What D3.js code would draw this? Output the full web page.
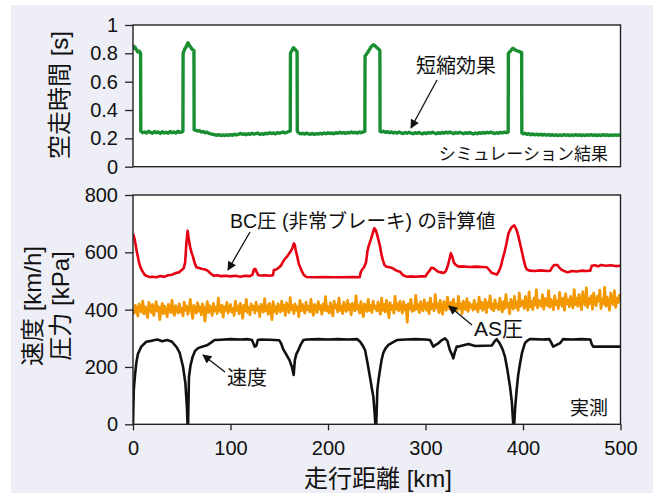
<!DOCTYPE html>
<html>
<head>
<meta charset="utf-8">
<script src="https://cdn.jsdelivr.net/npm/d3@7"></script>
<style>
  body { margin: 0; background: #fff; }
  svg { display: block; }
  text { font-family: "Liberation Sans", "Noto Sans CJK JP", sans-serif; fill: #111; }
</style>
</head>
<body>
<svg id="idChart" width="653" height="493"></svg>
<script>
/// 空走時間 (シミュレーション結果) [km, s]
const idleTime = [[0,0.86],[1,0.835],[2,0.845],[3.5,0.825],[5,0.81],[6.5,0.815],[7.8,0.8],[8,0.25],[10,0.24],[12,0.245],[14,0.238],[16,0.25],[18,0.242],[20,0.236],[22,0.248],[24,0.24],[26,0.245],[28,0.235],[30,0.247],[32,0.238],[34,0.243],[36,0.236],[38,0.248],[40,0.24],[42,0.245],[44,0.237],[46,0.25],[48,0.242],[50,0.245],[51.2,0.25],[51.4,0.8],[53,0.83],[54.5,0.845],[56.4,0.875],[57.5,0.86],[59,0.845],[61,0.825],[62.5,0.82],[62.7,0.26],[64,0.258],[66,0.252],[68,0.255],[70,0.245],[72,0.248],[74,0.24],[76,0.243],[78,0.235],[80,0.232],[82,0.228],[84,0.225],[86,0.222],[88,0.226],[90,0.22],[92,0.224],[94,0.22],[96,0.225],[98,0.221],[100,0.226],[102,0.222],[104,0.23],[106,0.224],[108,0.228],[110,0.235],[112,0.229],[114,0.232],[116,0.226],[118,0.233],[120,0.228],[122,0.236],[124,0.23],[126,0.233],[128,0.238],[130,0.227],[132,0.233],[134,0.229],[136,0.236],[138,0.232],[140,0.24],[142,0.234],[144,0.238],[146,0.232],[148,0.241],[150,0.236],[152,0.24],[154,0.245],[156,0.238],[158,0.243],[160,0.25],[161.3,0.252],[161.5,0.8],[163,0.82],[164.5,0.84],[166,0.83],[168.3,0.81],[168.5,0.25],[170,0.238],[172,0.232],[174,0.236],[176,0.23],[178,0.237],[180,0.232],[182,0.229],[184,0.235],[186,0.228],[188,0.233],[190,0.23],[192,0.236],[194,0.231],[196,0.238],[198,0.233],[200,0.24],[202,0.234],[204,0.238],[206,0.232],[208,0.24],[210,0.236],[212,0.243],[214,0.237],[216,0.241],[218,0.235],[220,0.242],[222,0.238],[224,0.245],[226,0.239],[228,0.243],[230,0.237],[232,0.244],[234,0.24],[236,0.246],[237.8,0.25],[238,0.78],[240,0.8],[242,0.82],[244,0.845],[246.5,0.86],[248,0.855],[250,0.84],[252,0.83],[253.2,0.82],[253.4,0.25],[255,0.245],[257,0.25],[259,0.242],[261,0.247],[263,0.24],[265,0.246],[267,0.238],[269,0.243],[271,0.237],[273,0.245],[275,0.239],[277,0.234],[279,0.241],[281,0.236],[283,0.243],[285,0.238],[287,0.233],[289,0.24],[291,0.235],[293,0.242],[295,0.236],[297,0.232],[299,0.239],[301,0.234],[303,0.241],[305,0.236],[307,0.244],[309,0.238],[311,0.233],[313,0.24],[315,0.235],[317,0.242],[319,0.237],[321,0.244],[323,0.238],[325,0.245],[327,0.239],[329,0.234],[331,0.241],[333,0.236],[335,0.243],[337,0.238],[339,0.233],[341,0.24],[343,0.235],[345,0.242],[347,0.236],[349,0.231],[351,0.238],[353,0.233],[355,0.24],[357,0.235],[359,0.242],[361,0.236],[363,0.243],[365,0.238],[367,0.244],[369,0.239],[371,0.234],[373,0.24],[375,0.236],[377,0.243],[379,0.238],[381,0.244],[383,0.24],[384.8,0.245],[385,0.8],[387,0.815],[389.4,0.835],[391,0.83],[393,0.82],[395,0.815],[397,0.81],[398.6,0.805],[398.8,0.24],[400,0.232],[402,0.236],[404,0.228],[406,0.233],[408,0.226],[410,0.231],[412,0.225],[414,0.23],[416,0.224],[418,0.229],[420,0.223],[422,0.228],[424,0.222],[426,0.227],[428,0.221],[430,0.226],[432,0.22],[434,0.225],[436,0.219],[438,0.224],[440,0.22],[442,0.226],[444,0.221],[446,0.225],[448,0.219],[450,0.224],[452,0.22],[454,0.226],[456,0.221],[458,0.225],[460,0.219],[462,0.224],[464,0.22],[466,0.225],[468,0.221],[470,0.226],[472,0.22],[474,0.225],[476,0.219],[478,0.224],[480,0.22],[482,0.226],[484,0.221],[486,0.225],[488,0.219],[490,0.224],[492,0.22],[494,0.225],[496,0.221],[498,0.224],[500,0.222]];

/// BC圧 (非常ブレーキ) の計算値 [km, kPa]
const bcPressure = [[0,665],[1,655],[2,640],[3,620],[4,600],[5,585],[6,568],[7,555],[8,545],[10,532],[12,522],[14,517],[17,514],[20,515],[24,513],[28,517],[32,515],[36,520],[40,522],[44,528],[47,530],[50,538],[52,545],[53.5,565],[54.5,620],[55.5,660],[56,675],[57,650],[58,630],[59,612],[60,600],[61.5,585],[63,565],[65,548],[68,545],[71,542],[74,540],[77,535],[80,525],[83,518],[86,520],[90,517],[95,518],[100,516],[105,518],[110,515],[115,518],[120,517],[122.5,522],[124,540],[125.5,542],[127,530],[128.5,520],[132,519],[136,520],[140,518],[143.5,520],[144.5,538],[147,540],[150,548],[152,555],[154,568],[156,578],[158,585],[160,595],[162,605],[163.5,615],[165,631],[166,625],[167,605],[168.5,585],[170,560],[171.5,548],[173,535],[175,522],[178,514],[185,513],[195,514],[205,513],[215,513],[225,514],[232.5,513],[233.5,530],[235,540],[237,548],[239,565],[240.5,605],[242,625],[244,645],[246,668],[247.5,684],[249,678],[250.5,660],[252,640],[253.5,618],[255,590],[256.5,570],[258,556],[260,550],[263,548],[266,545],[268.5,540],[271,535],[274,532],[277,520],[281,515],[285,516],[290,515],[295,516],[300,516],[302,527],[304,535],[306,546],[308,545],[310,540],[313,532],[316,530],[319,528],[321,535],[323,555],[324.5,575],[326,597],[327.5,585],[329,565],[331,556],[334,550],[338,551],[345,549],[352,550],[358,549],[363,548],[365,540],[368,528],[371,525],[373,522],[375,532],[377,548],[379,575],[381,600],[383,630],[385,665],[387,680],[389,690],[391,694],[393,682],[395,660],[397,630],[399,600],[401,570],[402.5,550],[404,540],[407,536],[412,535],[418,537],[425,535],[428,536],[430,548],[432,556],[435,556],[437,548],[439,540],[442,535],[446,530],[450,535],[455,533],[460,536],[465,535],[469,536],[470.5,553],[474,555],[477,551],[480,556],[485,553],[490,555],[495,552],[500,553]];

/// AS圧 (実測), 1.25 km step [kPa]
const asStep = 1.25;
const asPressure = [402,388,415,396,378,420,405,392,430,385,410,398,372,425,408,390,418,380,402,428,
  395,410,365,400,422,386,412,398,375,418,404,390,432,396,380,414,400,388,420,392,
  405,378,426,398,412,384,402,436,394,370,415,400,388,424,396,410,382,420,405,360,
  398,428,390,414,402,380,422,396,408,386,440,400,392,416,374,410,398,425,388,405,
  418,392,404,380,430,398,412,386,422,402,370,415,396,436,390,408,382,420,400,412,
  388,426,398,410,376,418,404,392,438,396,414,384,422,400,365,428,394,410,386,420,
  402,392,430,398,416,380,424,406,390,442,400,414,386,420,398,410,376,432,396,418,
  404,388,426,400,412,392,436,398,380,418,406,390,428,402,414,384,420,398,445,396,
  410,388,424,402,378,430,406,416,392,440,398,412,386,426,404,394,432,400,418,382,
  422,406,396,448,402,414,388,428,400,376,420,408,394,436,398,416,390,430,405,412,
  396,426,404,384,440,398,418,392,432,406,372,424,400,414,388,446,402,420,396,430,
  408,388,428,400,416,356,420,404,436,394,412,398,450,402,418,390,428,406,396,434,
  410,398,424,386,440,404,418,396,452,406,420,390,432,402,384,428,410,398,444,412,
  402,426,392,436,408,418,396,446,404,420,386,430,410,400,438,394,424,408,416,398,
  432,404,418,392,444,406,426,398,412,436,390,424,410,448,402,420,396,434,408,418,
  400,440,412,392,428,404,452,410,422,386,436,414,402,446,408,426,398,458,412,420,
  430,404,446,418,398,462,410,428,400,440,416,470,406,432,420,412,452,402,438,424,
  414,466,408,436,422,400,448,418,430,404,460,426,412,440,398,456,420,434,410,446,
  428,406,470,418,440,412,452,424,400,462,430,416,476,408,438,422,448,402,458,426,
  414,446,430,468,404,436,420,478,412,444,426,398,458,432,418,466,408,440,424,450,
  432];

/// 速度 (実測) [km, km/h]
const speed = [[0,0],[0.8,120],[2,170],[3.4,214],[5,245],[8.5,271],[13.6,288],[20,292],[25,296],[30,290],[35,294],[40,288],[42.7,277],[45,268],[47.9,249],[51.3,201],[53.7,144],[55.3,60],[55.9,0],[56.5,0],[57.4,166],[59,205],[61.2,236],[63.5,255],[66.4,265],[70,270],[76.6,277],[80,285],[83.7,294],[90,295],[100,297],[110,296],[118,297],[122,294],[124.8,271],[126.5,274],[128,294],[131,296],[140,295],[150,293],[152,282],[154,262],[157,245],[160.5,224],[163,200],[164.8,172],[166,224],[167.5,245],[169.6,259],[172,278],[174.8,294],[178,296],[190,297],[200,296],[210,297],[220,296],[230,297],[233,288],[235.5,275],[238,259],[240.5,215],[243,166],[245,125],[246.5,96],[247.8,40],[248.6,0],[249.5,0],[250.6,120],[252,160],[253.3,189],[255,225],[256.7,249],[259,265],[262,277],[266,285],[270.6,294],[280,296],[290,297],[300,296],[304.6,294],[306,285],[308,271],[310,276],[313,282],[316,292],[320,300],[322.5,290],[325,259],[327,245],[328.5,230],[330,250],[332,271],[335,272],[340,277],[344,280],[351,273],[360,274],[368,275],[371,290],[373,297],[376,283],[379,262],[381.5,236],[384,190],[386.7,131],[388.5,80],[390,0],[391,0],[392,60],[393.5,120],[395,170],[397,213],[399,250],[402,283],[404.5,292],[407,297],[410,297],[420,296],[427,297],[429,285],[431,271],[434,276],[438,283],[441,297],[450,296],[460,297],[469,296],[470.5,280],[472,271],[480,271],[490,271],[500,271]];

const xTicks = [0, 100, 200, 300, 400, 500];
const topTicks = [0, 0.2, 0.4, 0.6, 0.8, 1];
const bottomTicks = [0, 200, 400, 600, 800];

const svg = d3.select('#idChart');
const frame = { left: 133, right: 620.5 };
const topBox = { top: 25, bottom: 166.7 };
const botBox = { top: 195, bottom: 424.3 };

svg.append('rect').attr('x', 11).attr('y', 5).attr('width', 642).attr('height', 488).attr('fill', '#eeeef7');

const x = d3.scaleLinear().domain([0, 500]).range([frame.left, frame.right]);
const yTop = d3.scaleLinear().domain([0, 1]).range([topBox.bottom, topBox.top]);
const yBot = d3.scaleLinear().domain([0, 800]).range([botBox.bottom, botBox.top]);

/// plot backgrounds
[topBox, botBox].forEach(b => {
  svg.append('rect').attr('x', frame.left).attr('y', b.top)
    .attr('width', frame.right - frame.left).attr('height', b.bottom - b.top).attr('fill', '#fff');
});

/// arrow head
svg.append('defs').append('marker')
  .attr('id', 'arrow').attr('viewBox', '0 0 10 10').attr('refX', 9).attr('refY', 5)
  .attr('markerWidth', 10).attr('markerHeight', 9).attr('markerUnits', 'userSpaceOnUse')
  .attr('orient', 'auto')
  .append('path').attr('d', 'M0,0 L10,5 L0,10 Z').attr('fill', '#111');

/// lines
const clip = (id, b) => svg.append('clipPath').attr('id', id).append('rect')
  .attr('x', frame.left).attr('y', b.top - 2).attr('width', frame.right - frame.left).attr('height', b.bottom - b.top + 2);
clip('clipTop', topBox);
clip('clipBot', botBox);

const lineTop = d3.line().x(d => x(d[0])).y(d => yTop(d[1]));
const lineBot = d3.line().x(d => x(d[0])).y(d => yBot(d[1]));

svg.append('path').datum(idleTime).attr('d', lineTop).attr('clip-path', 'url(#clipTop)')
  .attr('fill', 'none').attr('stroke', '#1a8f32').attr('stroke-width', 3.4).attr('stroke-linejoin', 'round');

const gBot = svg.append('g').attr('clip-path', 'url(#clipBot)');
gBot.append('path').datum(asPressure.map((v, i) => [i * asStep, v])).attr('d', lineBot)
  .attr('fill', 'none').attr('stroke', '#f39800').attr('stroke-width', 2.8).attr('stroke-linejoin', 'round');
gBot.append('path').datum(bcPressure).attr('d', lineBot)
  .attr('fill', 'none').attr('stroke', '#e60012').attr('stroke-width', 2.6).attr('stroke-linejoin', 'round');
gBot.append('path').datum(speed).attr('d', lineBot)
  .attr('fill', 'none').attr('stroke', '#111').attr('stroke-width', 2.6).attr('stroke-linejoin', 'round');

/// axes
const fmt = d => String(d);
const axTop = svg.append('g').attr('transform', `translate(${frame.left},0)`)
  .call(d3.axisLeft(yTop).tickValues(topTicks).tickFormat(fmt).tickSize(8).tickPadding(7).tickSizeOuter(0));
const axBot = svg.append('g').attr('transform', `translate(${frame.left},0)`)
  .call(d3.axisLeft(yBot).tickValues(bottomTicks).tickFormat(fmt).tickSize(8).tickPadding(7).tickSizeOuter(0));
const axX = svg.append('g').attr('transform', `translate(0,${botBox.bottom})`)
  .call(d3.axisBottom(x).tickValues(xTicks).tickFormat(fmt).tickSize(6).tickPadding(11).tickSizeOuter(0));
[axTop, axBot, axX].forEach(a => {
  a.select('.domain').remove();
  a.selectAll('.tick line').attr('stroke', '#222').attr('stroke-width', 1.3);
  a.selectAll('.tick text').attr('font-size', 20).attr('font-family', null).attr('fill', '#111');
});

/// frames
[topBox, botBox].forEach(b => {
  svg.append('rect').attr('x', frame.left).attr('y', b.top)
    .attr('width', frame.right - frame.left).attr('height', b.bottom - b.top)
    .attr('fill', 'none').attr('stroke', '#222').attr('stroke-width', 1.4);
});

/// axis titles
const title = (tx, ty, txt) => svg.append('text').attr('transform', `translate(${tx},${ty}) rotate(-90)`)
  .attr('text-anchor', 'middle').attr('font-size', 24).text(txt);
title(68, 95, '空走時間 [s]');
title(41, 306, '速度 [km/h]');
title(69, 306, '圧力 [kPa]');
svg.append('text').attr('x', 378).attr('y', 487).attr('text-anchor', 'middle').attr('font-size', 24).text('走行距離 [km]');

/// annotations
const note = (tx, ty, anchor, size, txt) => svg.append('text').attr('x', tx).attr('y', ty)
  .attr('text-anchor', anchor).attr('font-size', size).text(txt);
const arrow = (x1, y1, x2, y2) => svg.append('line').attr('x1', x1).attr('y1', y1).attr('x2', x2).attr('y2', y2)
  .attr('stroke', '#111').attr('stroke-width', 1.3).attr('marker-end', 'url(#arrow)');

note(456, 73, 'middle', 20, '短縮効果');
arrow(437, 80, 411, 128);
note(608, 160, 'end', 17, 'シミュレーション結果');
note(230, 228, 'start', 19.5, 'BC圧 (非常ブレーキ) の計算値');
arrow(250, 232, 228, 270);
note(474, 336, 'start', 21, 'AS圧');
arrow(472, 325, 449, 306);
note(227, 385, 'start', 20, '速度');
arrow(225, 372, 203, 355);
note(608, 415, 'end', 19, '実測');
</script>
</body>
</html>
